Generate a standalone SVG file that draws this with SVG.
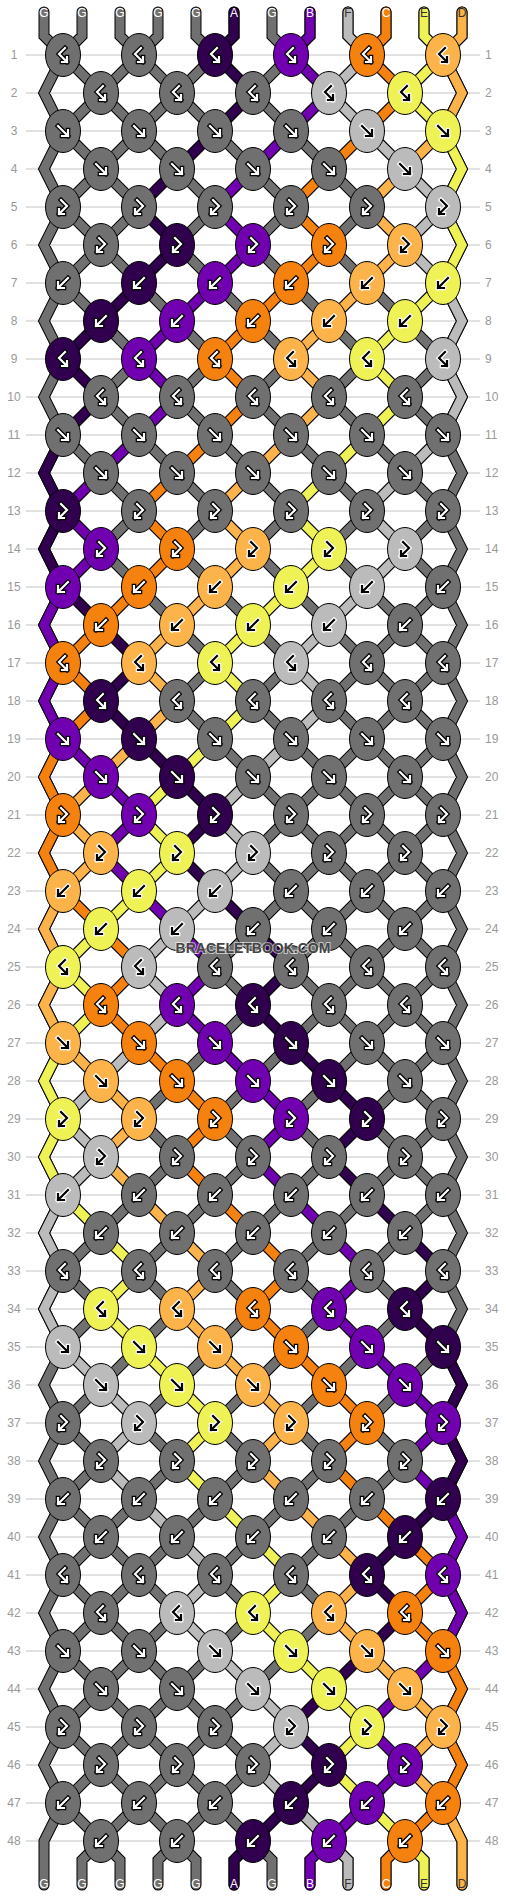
<svg xmlns="http://www.w3.org/2000/svg" xmlns:xlink="http://www.w3.org/1999/xlink" width="506" height="1896" viewBox="0 0 506 1896">
<style>
text{font-family:"Liberation Sans",Arial,sans-serif}
.n{font-size:12px;fill:#999}
.lb{font-size:12px;text-anchor:middle}
.w{fill:#fff}.k{fill:#333}
.rl{fill:none;stroke:#c4c4c4;stroke-width:1}
.o{fill:none;stroke:#000;stroke-width:11;stroke-linecap:round;stroke-linejoin:miter}
.s{fill:none;stroke-width:9;stroke-linecap:round;stroke-linejoin:miter}
.G{fill:#707070}.A{fill:#30004e}.B{fill:#7000b0}.F{fill:#bbbbbb}.C{fill:#f5820f}.E{fill:#eef254}.D{fill:#fcb349}
.ao{fill:none;stroke:#000;stroke-width:4.6;stroke-linecap:square}
.ai{fill:none;stroke:#fff;stroke-width:2.2;stroke-linecap:square}
.bo{fill:none;stroke:#fff;stroke-width:4.6;stroke-linecap:square}
.bi{fill:none;stroke:#000;stroke-width:2.2;stroke-linecap:square}
</style>
<defs>
<path id="gF" d="M-5,-5L5,5M5,-1V5H-1"/>
<path id="gB" d="M5,-5L-5,5M-5,-1V5H1"/>
<path id="gBF" d="M2,-7L-4,-1L4,7M4,2V7H-1"/>
<path id="gFB" d="M-2,-7L4,-1L-4,7M-4,2V7H1"/>
<g id="Fw"><ellipse rx="17.5" ry="21.5" stroke="#000"/><use href="#gF" class="ao"/><use href="#gF" class="ai"/></g>
<g id="Fb"><ellipse rx="17.5" ry="21.5" stroke="#000"/><use href="#gF" class="bo"/><use href="#gF" class="bi"/></g>
<g id="Bw"><ellipse rx="17.5" ry="21.5" stroke="#000"/><use href="#gB" class="ao"/><use href="#gB" class="ai"/></g>
<g id="Bb"><ellipse rx="17.5" ry="21.5" stroke="#000"/><use href="#gB" class="bo"/><use href="#gB" class="bi"/></g>
<g id="BFw"><ellipse rx="17.5" ry="21.5" stroke="#000"/><use href="#gBF" class="ao"/><use href="#gBF" class="ai"/></g>
<g id="BFb"><ellipse rx="17.5" ry="21.5" stroke="#000"/><use href="#gBF" class="bo"/><use href="#gBF" class="bi"/></g>
<g id="FBw"><ellipse rx="17.5" ry="21.5" stroke="#000"/><use href="#gFB" class="ao"/><use href="#gFB" class="ai"/></g>
<g id="FBb"><ellipse rx="17.5" ry="21.5" stroke="#000"/><use href="#gFB" class="bo"/><use href="#gFB" class="bi"/></g>
<path id="lat" d="M367,55l76,76M291,55l152,152M215,55l228,228M139,55l304,304M63,55l380,380M63,131l380,380M63,207l380,380M63,283l380,380M63,359l380,380M63,435l380,380M63,511l380,380M63,587l380,380M63,663l380,380M63,739l380,380M63,815l380,380M63,891l380,380M63,967l380,380M63,1043l380,380M63,1119l380,380M63,1195l380,380M63,1271l380,380M63,1347l380,380M63,1423l380,380M63,1499l342,342M63,1575l266,266M63,1651l190,190M63,1727l114,114M63,1803l38,38
M139,55l-76,76M215,55l-152,152M291,55l-228,228M367,55l-304,304M443,55l-380,380M443,131l-380,380M443,207l-380,380M443,283l-380,380M443,359l-380,380M443,435l-380,380M443,511l-380,380M443,587l-380,380M443,663l-380,380M443,739l-380,380M443,815l-380,380M443,891l-380,380M443,967l-380,380M443,1043l-380,380M443,1119l-380,380M443,1195l-380,380M443,1271l-380,380M443,1347l-380,380M443,1423l-380,380M443,1499l-342,342M443,1575l-266,266M443,1651l-190,190M443,1727l-114,114M443,1803l-38,38
M63,55L44,93 63,131 44,169 63,207 44,245 63,283 44,321 63,359 44,397 63,435 44,473 63,511 44,549 63,587 44,625 63,663 44,701 63,739 44,777 63,815 44,853 63,891 44,929 63,967 44,1005 63,1043 44,1081 63,1119 44,1157 63,1195 44,1233 63,1271 44,1309 63,1347 44,1385 63,1423 44,1461 63,1499 44,1537 63,1575 44,1613 63,1651 44,1689 63,1727 44,1765 63,1803 44,1841 44,1885
M443,55L462,93 443,131 462,169 443,207 462,245 443,283 462,321 443,359 462,397 443,435 462,473 443,511 462,549 443,587 462,625 443,663 462,701 443,739 462,777 443,815 462,853 443,891 462,929 443,967 462,1005 443,1043 462,1081 443,1119 462,1157 443,1195 462,1233 443,1271 462,1309 443,1347 462,1385 443,1423 462,1461 443,1499 462,1537 443,1575 462,1613 443,1651 462,1689 443,1727 462,1765 443,1803 462,1841 462,1885
M44,12V36l19,19M82,12V36l-19,19M120,12V36l19,19M158,12V36l-19,19M196,12V36l19,19M234,12V36l-19,19M272,12V36l19,19M310,12V36l-19,19M348,12V36l19,19M386,12V36l-19,19M424,12V36l19,19M462,12V36l-19,19
M101,1841l-19,19V1885M101,1841l19,19V1885M177,1841l-19,19V1885M177,1841l19,19V1885M253,1841l-19,19V1885M253,1841l19,19V1885M329,1841l-19,19V1885M329,1841l19,19V1885M405,1841l-19,19V1885M405,1841l19,19V1885"/>
<path id="pA" d="M234,12V36L215,55 253,93 215,131 177,169 139,207 177,245 139,283 101,321 63,359 101,397 63,435 44,473 63,511 44,549 63,587 101,625 139,663 101,701 139,739 177,777 215,815 177,853 215,891 253,929 291,967 253,1005 291,1043 329,1081 367,1119 329,1157 367,1195 405,1233 443,1271 405,1309 443,1347 462,1385 443,1423 462,1461 443,1499 405,1537 367,1575 405,1613 367,1651 329,1689 291,1727 329,1765 291,1803 253,1841 234,1860V1885"/>
<path id="pB" d="M310,12V36L291,55 329,93 291,131 253,169 215,207 253,245 215,283 177,321 139,359 177,397 139,435 101,473 63,511 101,549 63,587 44,625 63,663 44,701 63,739 101,777 139,815 101,853 139,891 177,929 215,967 177,1005 215,1043 253,1081 291,1119 253,1157 291,1195 329,1233 367,1271 329,1309 367,1347 405,1385 443,1423 405,1461 443,1499 462,1537 443,1575 462,1613 443,1651 405,1689 367,1727 405,1765 367,1803 329,1841 310,1860V1885"/>
<path id="pF" d="M348,12V36L367,55 329,93 367,131 405,169 443,207 405,245 443,283 462,321 443,359 462,397 443,435 405,473 367,511 405,549 367,587 329,625 291,663 329,701 291,739 253,777 215,815 253,853 215,891 177,929 139,967 177,1005 139,1043 101,1081 63,1119 101,1157 63,1195 44,1233 63,1271 44,1309 63,1347 101,1385 139,1423 101,1461 139,1499 177,1537 215,1575 177,1613 215,1651 253,1689 291,1727 253,1765 291,1803 329,1841 348,1860V1885"/>
<path id="pC" d="M386,12V36L367,55 405,93 367,131 329,169 291,207 329,245 291,283 253,321 215,359 253,397 215,435 177,473 139,511 177,549 139,587 101,625 63,663 101,701 63,739 44,777 63,815 44,853 63,891 101,929 139,967 101,1005 139,1043 177,1081 215,1119 177,1157 215,1195 253,1233 291,1271 253,1309 291,1347 329,1385 367,1423 329,1461 367,1499 405,1537 443,1575 405,1613 443,1651 462,1689 443,1727 462,1765 443,1803 405,1841 386,1860V1885"/>
<path id="pE" d="M424,12V36L443,55 405,93 443,131 462,169 443,207 462,245 443,283 405,321 367,359 405,397 367,435 329,473 291,511 329,549 291,587 253,625 215,663 253,701 215,739 177,777 139,815 177,853 139,891 101,929 63,967 101,1005 63,1043 44,1081 63,1119 44,1157 63,1195 101,1233 139,1271 101,1309 139,1347 177,1385 215,1423 177,1461 215,1499 253,1537 291,1575 253,1613 291,1651 329,1689 367,1727 329,1765 367,1803 405,1841 424,1860V1885"/>
<path id="pD" d="M462,12V36L443,55 462,93 443,131 405,169 367,207 405,245 367,283 329,321 291,359 329,397 291,435 253,473 215,511 253,549 215,587 177,625 139,663 177,701 139,739 101,777 63,815 101,853 63,891 44,929 63,967 44,1005 63,1043 101,1081 139,1119 101,1157 139,1195 177,1233 215,1271 177,1309 215,1347 253,1385 291,1423 253,1461 291,1499 329,1537 367,1575 329,1613 367,1651 405,1689 443,1727 405,1765 443,1803 462,1841V1885"/>
</defs>
<rect width="506" height="1896" fill="#fff"/>
<g id="grid">
<path class="rl" d="M26,55H480M26,93H480M26,131H480M26,169H480M26,207H480M26,245H480M26,283H480M26,321H480M26,359H480M26,397H480M26,435H480M26,473H480M26,511H480M26,549H480M26,587H480M26,625H480M26,663H480M26,701H480M26,739H480M26,777H480M26,815H480M26,853H480M26,891H480M26,929H480M26,967H480M26,1005H480M26,1043H480M26,1081H480M26,1119H480M26,1157H480M26,1195H480M26,1233H480M26,1271H480M26,1309H480M26,1347H480M26,1385H480M26,1423H480M26,1461H480M26,1499H480M26,1537H480M26,1575H480M26,1613H480M26,1651H480M26,1689H480M26,1727H480M26,1765H480M26,1803H480M26,1841H480"/>
<g class="n" text-anchor="middle">
<text x="14" y="59">1</text><text x="14" y="97">2</text><text x="14" y="135">3</text><text x="14" y="173">4</text><text x="14" y="211">5</text><text x="14" y="249">6</text><text x="14" y="287">7</text><text x="14" y="325">8</text><text x="14" y="363">9</text><text x="14" y="401">10</text><text x="14" y="439">11</text><text x="14" y="477">12</text><text x="14" y="515">13</text><text x="14" y="553">14</text><text x="14" y="591">15</text><text x="14" y="629">16</text><text x="14" y="667">17</text><text x="14" y="705">18</text><text x="14" y="743">19</text><text x="14" y="781">20</text><text x="14" y="819">21</text><text x="14" y="857">22</text><text x="14" y="895">23</text><text x="14" y="933">24</text><text x="14" y="971">25</text><text x="14" y="1009">26</text><text x="14" y="1047">27</text><text x="14" y="1085">28</text><text x="14" y="1123">29</text><text x="14" y="1161">30</text><text x="14" y="1199">31</text><text x="14" y="1237">32</text><text x="14" y="1275">33</text><text x="14" y="1313">34</text><text x="14" y="1351">35</text><text x="14" y="1389">36</text><text x="14" y="1427">37</text><text x="14" y="1465">38</text><text x="14" y="1503">39</text><text x="14" y="1541">40</text><text x="14" y="1579">41</text><text x="14" y="1617">42</text><text x="14" y="1655">43</text><text x="14" y="1693">44</text><text x="14" y="1731">45</text><text x="14" y="1769">46</text><text x="14" y="1807">47</text><text x="14" y="1845">48</text>
</g>
<g class="n">
<text x="485" y="59">1</text><text x="485" y="97">2</text><text x="485" y="135">3</text><text x="485" y="173">4</text><text x="485" y="211">5</text><text x="485" y="249">6</text><text x="485" y="287">7</text><text x="485" y="325">8</text><text x="485" y="363">9</text><text x="485" y="401">10</text><text x="485" y="439">11</text><text x="485" y="477">12</text><text x="485" y="515">13</text><text x="485" y="553">14</text><text x="485" y="591">15</text><text x="485" y="629">16</text><text x="485" y="667">17</text><text x="485" y="705">18</text><text x="485" y="743">19</text><text x="485" y="781">20</text><text x="485" y="819">21</text><text x="485" y="857">22</text><text x="485" y="895">23</text><text x="485" y="933">24</text><text x="485" y="971">25</text><text x="485" y="1009">26</text><text x="485" y="1047">27</text><text x="485" y="1085">28</text><text x="485" y="1123">29</text><text x="485" y="1161">30</text><text x="485" y="1199">31</text><text x="485" y="1237">32</text><text x="485" y="1275">33</text><text x="485" y="1313">34</text><text x="485" y="1351">35</text><text x="485" y="1389">36</text><text x="485" y="1427">37</text><text x="485" y="1465">38</text><text x="485" y="1503">39</text><text x="485" y="1541">40</text><text x="485" y="1579">41</text><text x="485" y="1617">42</text><text x="485" y="1655">43</text><text x="485" y="1693">44</text><text x="485" y="1731">45</text><text x="485" y="1769">46</text><text x="485" y="1807">47</text><text x="485" y="1845">48</text>
</g>
</g>
<g id="connectors">
<use href="#lat" class="o"/><use href="#lat" class="s" stroke="#707070"/>
<use href="#pA" class="o"/><use href="#pA" class="s" stroke="#30004e"/>
<use href="#pB" class="o"/><use href="#pB" class="s" stroke="#7000b0"/>
<use href="#pF" class="o"/><use href="#pF" class="s" stroke="#bbbbbb"/>
<use href="#pC" class="o"/><use href="#pC" class="s" stroke="#f5820f"/>
<use href="#pE" class="o"/><use href="#pE" class="s" stroke="#eef254"/>
<use href="#pD" class="o"/><use href="#pD" class="s" stroke="#fcb349"/>
</g>
<g id="knots">
<g id="k1-1" class="G"><use href="#BFw" x="63" y="55"/></g>
<g id="k1-2" class="G"><use href="#BFw" x="139" y="55"/></g>
<g id="k1-3" class="A"><use href="#BFw" x="215" y="55"/></g>
<g id="k1-4" class="B"><use href="#BFw" x="291" y="55"/></g>
<g id="k1-5" class="C"><use href="#BFw" x="367" y="55"/></g>
<g id="k1-6" class="D"><use href="#BFb" x="443" y="55"/></g>
<g id="k2-1" class="G"><use href="#BFw" x="101" y="93"/></g>
<g id="k2-2" class="G"><use href="#BFw" x="177" y="93"/></g>
<g id="k2-3" class="G"><use href="#BFw" x="253" y="93"/></g>
<g id="k2-4" class="F"><use href="#BFb" x="329" y="93"/></g>
<g id="k2-5" class="E"><use href="#BFb" x="405" y="93"/></g>
<g id="k3-1" class="G"><use href="#Fw" x="63" y="131"/></g>
<g id="k3-2" class="G"><use href="#Fw" x="139" y="131"/></g>
<g id="k3-3" class="G"><use href="#Fw" x="215" y="131"/></g>
<g id="k3-4" class="G"><use href="#Fw" x="291" y="131"/></g>
<g id="k3-5" class="F"><use href="#Fb" x="367" y="131"/></g>
<g id="k3-6" class="E"><use href="#Fb" x="443" y="131"/></g>
<g id="k4-1" class="G"><use href="#Fw" x="101" y="169"/></g>
<g id="k4-2" class="G"><use href="#Fw" x="177" y="169"/></g>
<g id="k4-3" class="G"><use href="#Fw" x="253" y="169"/></g>
<g id="k4-4" class="G"><use href="#Fw" x="329" y="169"/></g>
<g id="k4-5" class="F"><use href="#Fb" x="405" y="169"/></g>
<g id="k5-1" class="G"><use href="#FBw" x="63" y="207"/></g>
<g id="k5-2" class="G"><use href="#FBw" x="139" y="207"/></g>
<g id="k5-3" class="G"><use href="#FBw" x="215" y="207"/></g>
<g id="k5-4" class="G"><use href="#FBw" x="291" y="207"/></g>
<g id="k5-5" class="G"><use href="#FBw" x="367" y="207"/></g>
<g id="k5-6" class="F"><use href="#FBb" x="443" y="207"/></g>
<g id="k6-1" class="G"><use href="#FBw" x="101" y="245"/></g>
<g id="k6-2" class="A"><use href="#FBw" x="177" y="245"/></g>
<g id="k6-3" class="B"><use href="#FBw" x="253" y="245"/></g>
<g id="k6-4" class="C"><use href="#FBw" x="329" y="245"/></g>
<g id="k6-5" class="D"><use href="#FBb" x="405" y="245"/></g>
<g id="k7-1" class="G"><use href="#Bw" x="63" y="283"/></g>
<g id="k7-2" class="A"><use href="#Bw" x="139" y="283"/></g>
<g id="k7-3" class="B"><use href="#Bw" x="215" y="283"/></g>
<g id="k7-4" class="C"><use href="#Bw" x="291" y="283"/></g>
<g id="k7-5" class="D"><use href="#Bb" x="367" y="283"/></g>
<g id="k7-6" class="E"><use href="#Bb" x="443" y="283"/></g>
<g id="k8-1" class="A"><use href="#Bw" x="101" y="321"/></g>
<g id="k8-2" class="B"><use href="#Bw" x="177" y="321"/></g>
<g id="k8-3" class="C"><use href="#Bw" x="253" y="321"/></g>
<g id="k8-4" class="D"><use href="#Bb" x="329" y="321"/></g>
<g id="k8-5" class="E"><use href="#Bb" x="405" y="321"/></g>
<g id="k9-1" class="A"><use href="#BFw" x="63" y="359"/></g>
<g id="k9-2" class="B"><use href="#BFw" x="139" y="359"/></g>
<g id="k9-3" class="C"><use href="#BFw" x="215" y="359"/></g>
<g id="k9-4" class="D"><use href="#BFb" x="291" y="359"/></g>
<g id="k9-5" class="E"><use href="#BFb" x="367" y="359"/></g>
<g id="k9-6" class="F"><use href="#BFb" x="443" y="359"/></g>
<g id="k10-1" class="G"><use href="#BFw" x="101" y="397"/></g>
<g id="k10-2" class="G"><use href="#BFw" x="177" y="397"/></g>
<g id="k10-3" class="G"><use href="#BFw" x="253" y="397"/></g>
<g id="k10-4" class="G"><use href="#BFw" x="329" y="397"/></g>
<g id="k10-5" class="G"><use href="#BFw" x="405" y="397"/></g>
<g id="k11-1" class="G"><use href="#Fw" x="63" y="435"/></g>
<g id="k11-2" class="G"><use href="#Fw" x="139" y="435"/></g>
<g id="k11-3" class="G"><use href="#Fw" x="215" y="435"/></g>
<g id="k11-4" class="G"><use href="#Fw" x="291" y="435"/></g>
<g id="k11-5" class="G"><use href="#Fw" x="367" y="435"/></g>
<g id="k11-6" class="G"><use href="#Fw" x="443" y="435"/></g>
<g id="k12-1" class="G"><use href="#Fw" x="101" y="473"/></g>
<g id="k12-2" class="G"><use href="#Fw" x="177" y="473"/></g>
<g id="k12-3" class="G"><use href="#Fw" x="253" y="473"/></g>
<g id="k12-4" class="G"><use href="#Fw" x="329" y="473"/></g>
<g id="k12-5" class="G"><use href="#Fw" x="405" y="473"/></g>
<g id="k13-1" class="A"><use href="#FBw" x="63" y="511"/></g>
<g id="k13-2" class="G"><use href="#FBw" x="139" y="511"/></g>
<g id="k13-3" class="G"><use href="#FBw" x="215" y="511"/></g>
<g id="k13-4" class="G"><use href="#FBw" x="291" y="511"/></g>
<g id="k13-5" class="G"><use href="#FBw" x="367" y="511"/></g>
<g id="k13-6" class="G"><use href="#FBw" x="443" y="511"/></g>
<g id="k14-1" class="B"><use href="#FBw" x="101" y="549"/></g>
<g id="k14-2" class="C"><use href="#FBw" x="177" y="549"/></g>
<g id="k14-3" class="D"><use href="#FBb" x="253" y="549"/></g>
<g id="k14-4" class="E"><use href="#FBb" x="329" y="549"/></g>
<g id="k14-5" class="F"><use href="#FBb" x="405" y="549"/></g>
<g id="k15-1" class="B"><use href="#Bw" x="63" y="587"/></g>
<g id="k15-2" class="C"><use href="#Bw" x="139" y="587"/></g>
<g id="k15-3" class="D"><use href="#Bb" x="215" y="587"/></g>
<g id="k15-4" class="E"><use href="#Bb" x="291" y="587"/></g>
<g id="k15-5" class="F"><use href="#Bb" x="367" y="587"/></g>
<g id="k15-6" class="G"><use href="#Bw" x="443" y="587"/></g>
<g id="k16-1" class="C"><use href="#Bw" x="101" y="625"/></g>
<g id="k16-2" class="D"><use href="#Bb" x="177" y="625"/></g>
<g id="k16-3" class="E"><use href="#Bb" x="253" y="625"/></g>
<g id="k16-4" class="F"><use href="#Bb" x="329" y="625"/></g>
<g id="k16-5" class="G"><use href="#Bw" x="405" y="625"/></g>
<g id="k17-1" class="C"><use href="#BFw" x="63" y="663"/></g>
<g id="k17-2" class="D"><use href="#BFb" x="139" y="663"/></g>
<g id="k17-3" class="E"><use href="#BFb" x="215" y="663"/></g>
<g id="k17-4" class="F"><use href="#BFb" x="291" y="663"/></g>
<g id="k17-5" class="G"><use href="#BFw" x="367" y="663"/></g>
<g id="k17-6" class="G"><use href="#BFw" x="443" y="663"/></g>
<g id="k18-1" class="A"><use href="#BFw" x="101" y="701"/></g>
<g id="k18-2" class="G"><use href="#BFw" x="177" y="701"/></g>
<g id="k18-3" class="G"><use href="#BFw" x="253" y="701"/></g>
<g id="k18-4" class="G"><use href="#BFw" x="329" y="701"/></g>
<g id="k18-5" class="G"><use href="#BFw" x="405" y="701"/></g>
<g id="k19-1" class="B"><use href="#Fw" x="63" y="739"/></g>
<g id="k19-2" class="A"><use href="#Fw" x="139" y="739"/></g>
<g id="k19-3" class="G"><use href="#Fw" x="215" y="739"/></g>
<g id="k19-4" class="G"><use href="#Fw" x="291" y="739"/></g>
<g id="k19-5" class="G"><use href="#Fw" x="367" y="739"/></g>
<g id="k19-6" class="G"><use href="#Fw" x="443" y="739"/></g>
<g id="k20-1" class="B"><use href="#Fw" x="101" y="777"/></g>
<g id="k20-2" class="A"><use href="#Fw" x="177" y="777"/></g>
<g id="k20-3" class="G"><use href="#Fw" x="253" y="777"/></g>
<g id="k20-4" class="G"><use href="#Fw" x="329" y="777"/></g>
<g id="k20-5" class="G"><use href="#Fw" x="405" y="777"/></g>
<g id="k21-1" class="C"><use href="#FBw" x="63" y="815"/></g>
<g id="k21-2" class="B"><use href="#FBw" x="139" y="815"/></g>
<g id="k21-3" class="A"><use href="#FBw" x="215" y="815"/></g>
<g id="k21-4" class="G"><use href="#FBw" x="291" y="815"/></g>
<g id="k21-5" class="G"><use href="#FBw" x="367" y="815"/></g>
<g id="k21-6" class="G"><use href="#FBw" x="443" y="815"/></g>
<g id="k22-1" class="D"><use href="#FBb" x="101" y="853"/></g>
<g id="k22-2" class="E"><use href="#FBb" x="177" y="853"/></g>
<g id="k22-3" class="F"><use href="#FBb" x="253" y="853"/></g>
<g id="k22-4" class="G"><use href="#FBw" x="329" y="853"/></g>
<g id="k22-5" class="G"><use href="#FBw" x="405" y="853"/></g>
<g id="k23-1" class="D"><use href="#Bb" x="63" y="891"/></g>
<g id="k23-2" class="E"><use href="#Bb" x="139" y="891"/></g>
<g id="k23-3" class="F"><use href="#Bb" x="215" y="891"/></g>
<g id="k23-4" class="G"><use href="#Bw" x="291" y="891"/></g>
<g id="k23-5" class="G"><use href="#Bw" x="367" y="891"/></g>
<g id="k23-6" class="G"><use href="#Bw" x="443" y="891"/></g>
<g id="k24-1" class="E"><use href="#Bb" x="101" y="929"/></g>
<g id="k24-2" class="F"><use href="#Bb" x="177" y="929"/></g>
<g id="k24-3" class="G"><use href="#Bw" x="253" y="929"/></g>
<g id="k24-4" class="G"><use href="#Bw" x="329" y="929"/></g>
<g id="k24-5" class="G"><use href="#Bw" x="405" y="929"/></g>
<g id="k25-1" class="E"><use href="#BFb" x="63" y="967"/></g>
<g id="k25-2" class="F"><use href="#BFb" x="139" y="967"/></g>
<g id="k25-3" class="G"><use href="#BFw" x="215" y="967"/></g>
<g id="k25-4" class="G"><use href="#BFw" x="291" y="967"/></g>
<g id="k25-5" class="G"><use href="#BFw" x="367" y="967"/></g>
<g id="k25-6" class="G"><use href="#BFw" x="443" y="967"/></g>
<g id="k26-1" class="C"><use href="#BFw" x="101" y="1005"/></g>
<g id="k26-2" class="B"><use href="#BFw" x="177" y="1005"/></g>
<g id="k26-3" class="A"><use href="#BFw" x="253" y="1005"/></g>
<g id="k26-4" class="G"><use href="#BFw" x="329" y="1005"/></g>
<g id="k26-5" class="G"><use href="#BFw" x="405" y="1005"/></g>
<g id="k27-1" class="D"><use href="#Fb" x="63" y="1043"/></g>
<g id="k27-2" class="C"><use href="#Fw" x="139" y="1043"/></g>
<g id="k27-3" class="B"><use href="#Fw" x="215" y="1043"/></g>
<g id="k27-4" class="A"><use href="#Fw" x="291" y="1043"/></g>
<g id="k27-5" class="G"><use href="#Fw" x="367" y="1043"/></g>
<g id="k27-6" class="G"><use href="#Fw" x="443" y="1043"/></g>
<g id="k28-1" class="D"><use href="#Fb" x="101" y="1081"/></g>
<g id="k28-2" class="C"><use href="#Fw" x="177" y="1081"/></g>
<g id="k28-3" class="B"><use href="#Fw" x="253" y="1081"/></g>
<g id="k28-4" class="A"><use href="#Fw" x="329" y="1081"/></g>
<g id="k28-5" class="G"><use href="#Fw" x="405" y="1081"/></g>
<g id="k29-1" class="E"><use href="#FBb" x="63" y="1119"/></g>
<g id="k29-2" class="D"><use href="#FBb" x="139" y="1119"/></g>
<g id="k29-3" class="C"><use href="#FBw" x="215" y="1119"/></g>
<g id="k29-4" class="B"><use href="#FBw" x="291" y="1119"/></g>
<g id="k29-5" class="A"><use href="#FBw" x="367" y="1119"/></g>
<g id="k29-6" class="G"><use href="#FBw" x="443" y="1119"/></g>
<g id="k30-1" class="F"><use href="#FBb" x="101" y="1157"/></g>
<g id="k30-2" class="G"><use href="#FBw" x="177" y="1157"/></g>
<g id="k30-3" class="G"><use href="#FBw" x="253" y="1157"/></g>
<g id="k30-4" class="G"><use href="#FBw" x="329" y="1157"/></g>
<g id="k30-5" class="G"><use href="#FBw" x="405" y="1157"/></g>
<g id="k31-1" class="F"><use href="#Bb" x="63" y="1195"/></g>
<g id="k31-2" class="G"><use href="#Bw" x="139" y="1195"/></g>
<g id="k31-3" class="G"><use href="#Bw" x="215" y="1195"/></g>
<g id="k31-4" class="G"><use href="#Bw" x="291" y="1195"/></g>
<g id="k31-5" class="G"><use href="#Bw" x="367" y="1195"/></g>
<g id="k31-6" class="G"><use href="#Bw" x="443" y="1195"/></g>
<g id="k32-1" class="G"><use href="#Bw" x="101" y="1233"/></g>
<g id="k32-2" class="G"><use href="#Bw" x="177" y="1233"/></g>
<g id="k32-3" class="G"><use href="#Bw" x="253" y="1233"/></g>
<g id="k32-4" class="G"><use href="#Bw" x="329" y="1233"/></g>
<g id="k32-5" class="G"><use href="#Bw" x="405" y="1233"/></g>
<g id="k33-1" class="G"><use href="#BFw" x="63" y="1271"/></g>
<g id="k33-2" class="G"><use href="#BFw" x="139" y="1271"/></g>
<g id="k33-3" class="G"><use href="#BFw" x="215" y="1271"/></g>
<g id="k33-4" class="G"><use href="#BFw" x="291" y="1271"/></g>
<g id="k33-5" class="G"><use href="#BFw" x="367" y="1271"/></g>
<g id="k33-6" class="G"><use href="#BFw" x="443" y="1271"/></g>
<g id="k34-1" class="E"><use href="#BFb" x="101" y="1309"/></g>
<g id="k34-2" class="D"><use href="#BFb" x="177" y="1309"/></g>
<g id="k34-3" class="C"><use href="#BFw" x="253" y="1309"/></g>
<g id="k34-4" class="B"><use href="#BFw" x="329" y="1309"/></g>
<g id="k34-5" class="A"><use href="#BFw" x="405" y="1309"/></g>
<g id="k35-1" class="F"><use href="#Fb" x="63" y="1347"/></g>
<g id="k35-2" class="E"><use href="#Fb" x="139" y="1347"/></g>
<g id="k35-3" class="D"><use href="#Fb" x="215" y="1347"/></g>
<g id="k35-4" class="C"><use href="#Fw" x="291" y="1347"/></g>
<g id="k35-5" class="B"><use href="#Fw" x="367" y="1347"/></g>
<g id="k35-6" class="A"><use href="#Fw" x="443" y="1347"/></g>
<g id="k36-1" class="F"><use href="#Fb" x="101" y="1385"/></g>
<g id="k36-2" class="E"><use href="#Fb" x="177" y="1385"/></g>
<g id="k36-3" class="D"><use href="#Fb" x="253" y="1385"/></g>
<g id="k36-4" class="C"><use href="#Fw" x="329" y="1385"/></g>
<g id="k36-5" class="B"><use href="#Fw" x="405" y="1385"/></g>
<g id="k37-1" class="G"><use href="#FBw" x="63" y="1423"/></g>
<g id="k37-2" class="F"><use href="#FBb" x="139" y="1423"/></g>
<g id="k37-3" class="E"><use href="#FBb" x="215" y="1423"/></g>
<g id="k37-4" class="D"><use href="#FBb" x="291" y="1423"/></g>
<g id="k37-5" class="C"><use href="#FBw" x="367" y="1423"/></g>
<g id="k37-6" class="B"><use href="#FBw" x="443" y="1423"/></g>
<g id="k38-1" class="G"><use href="#FBw" x="101" y="1461"/></g>
<g id="k38-2" class="G"><use href="#FBw" x="177" y="1461"/></g>
<g id="k38-3" class="G"><use href="#FBw" x="253" y="1461"/></g>
<g id="k38-4" class="G"><use href="#FBw" x="329" y="1461"/></g>
<g id="k38-5" class="G"><use href="#FBw" x="405" y="1461"/></g>
<g id="k39-1" class="G"><use href="#Bw" x="63" y="1499"/></g>
<g id="k39-2" class="G"><use href="#Bw" x="139" y="1499"/></g>
<g id="k39-3" class="G"><use href="#Bw" x="215" y="1499"/></g>
<g id="k39-4" class="G"><use href="#Bw" x="291" y="1499"/></g>
<g id="k39-5" class="G"><use href="#Bw" x="367" y="1499"/></g>
<g id="k39-6" class="A"><use href="#Bw" x="443" y="1499"/></g>
<g id="k40-1" class="G"><use href="#Bw" x="101" y="1537"/></g>
<g id="k40-2" class="G"><use href="#Bw" x="177" y="1537"/></g>
<g id="k40-3" class="G"><use href="#Bw" x="253" y="1537"/></g>
<g id="k40-4" class="G"><use href="#Bw" x="329" y="1537"/></g>
<g id="k40-5" class="A"><use href="#Bw" x="405" y="1537"/></g>
<g id="k41-1" class="G"><use href="#BFw" x="63" y="1575"/></g>
<g id="k41-2" class="G"><use href="#BFw" x="139" y="1575"/></g>
<g id="k41-3" class="G"><use href="#BFw" x="215" y="1575"/></g>
<g id="k41-4" class="G"><use href="#BFw" x="291" y="1575"/></g>
<g id="k41-5" class="A"><use href="#BFw" x="367" y="1575"/></g>
<g id="k41-6" class="B"><use href="#BFw" x="443" y="1575"/></g>
<g id="k42-1" class="G"><use href="#BFw" x="101" y="1613"/></g>
<g id="k42-2" class="F"><use href="#BFb" x="177" y="1613"/></g>
<g id="k42-3" class="E"><use href="#BFb" x="253" y="1613"/></g>
<g id="k42-4" class="D"><use href="#BFb" x="329" y="1613"/></g>
<g id="k42-5" class="C"><use href="#BFw" x="405" y="1613"/></g>
<g id="k43-1" class="G"><use href="#Fw" x="63" y="1651"/></g>
<g id="k43-2" class="G"><use href="#Fw" x="139" y="1651"/></g>
<g id="k43-3" class="F"><use href="#Fb" x="215" y="1651"/></g>
<g id="k43-4" class="E"><use href="#Fb" x="291" y="1651"/></g>
<g id="k43-5" class="D"><use href="#Fb" x="367" y="1651"/></g>
<g id="k43-6" class="C"><use href="#Fw" x="443" y="1651"/></g>
<g id="k44-1" class="G"><use href="#Fw" x="101" y="1689"/></g>
<g id="k44-2" class="G"><use href="#Fw" x="177" y="1689"/></g>
<g id="k44-3" class="F"><use href="#Fb" x="253" y="1689"/></g>
<g id="k44-4" class="E"><use href="#Fb" x="329" y="1689"/></g>
<g id="k44-5" class="D"><use href="#Fb" x="405" y="1689"/></g>
<g id="k45-1" class="G"><use href="#FBw" x="63" y="1727"/></g>
<g id="k45-2" class="G"><use href="#FBw" x="139" y="1727"/></g>
<g id="k45-3" class="G"><use href="#FBw" x="215" y="1727"/></g>
<g id="k45-4" class="F"><use href="#FBb" x="291" y="1727"/></g>
<g id="k45-5" class="E"><use href="#FBb" x="367" y="1727"/></g>
<g id="k45-6" class="D"><use href="#FBb" x="443" y="1727"/></g>
<g id="k46-1" class="G"><use href="#FBw" x="101" y="1765"/></g>
<g id="k46-2" class="G"><use href="#FBw" x="177" y="1765"/></g>
<g id="k46-3" class="G"><use href="#FBw" x="253" y="1765"/></g>
<g id="k46-4" class="A"><use href="#FBw" x="329" y="1765"/></g>
<g id="k46-5" class="B"><use href="#FBw" x="405" y="1765"/></g>
<g id="k47-1" class="G"><use href="#Bw" x="63" y="1803"/></g>
<g id="k47-2" class="G"><use href="#Bw" x="139" y="1803"/></g>
<g id="k47-3" class="G"><use href="#Bw" x="215" y="1803"/></g>
<g id="k47-4" class="A"><use href="#Bw" x="291" y="1803"/></g>
<g id="k47-5" class="B"><use href="#Bw" x="367" y="1803"/></g>
<g id="k47-6" class="C"><use href="#Bw" x="443" y="1803"/></g>
<g id="k48-1" class="G"><use href="#Bw" x="101" y="1841"/></g>
<g id="k48-2" class="G"><use href="#Bw" x="177" y="1841"/></g>
<g id="k48-3" class="A"><use href="#Bw" x="253" y="1841"/></g>
<g id="k48-4" class="B"><use href="#Bw" x="329" y="1841"/></g>
<g id="k48-5" class="C"><use href="#Bw" x="405" y="1841"/></g>
</g>
<g id="labels" class="lb">
<text x="44" y="17" class="w">G</text><text x="82" y="17" class="w">G</text><text x="120" y="17" class="w">G</text><text x="158" y="17" class="w">G</text><text x="196" y="17" class="w">G</text><text x="234" y="17" class="w">A</text><text x="272" y="17" class="w">G</text><text x="310" y="17" class="w">B</text><text x="348" y="17" class="k">F</text><text x="386" y="17" class="w">C</text><text x="424" y="17" class="k">E</text><text x="462" y="17" class="k">D</text>
<text x="44" y="1888" class="w">G</text><text x="82" y="1888" class="w">G</text><text x="120" y="1888" class="w">G</text><text x="158" y="1888" class="w">G</text><text x="196" y="1888" class="w">G</text><text x="234" y="1888" class="w">A</text><text x="272" y="1888" class="w">G</text><text x="310" y="1888" class="w">B</text><text x="348" y="1888" class="k">F</text><text x="386" y="1888" class="w">C</text><text x="424" y="1888" class="k">E</text><text x="462" y="1888" class="k">D</text>
</g>
<text id="watermark" x="253" y="953" text-anchor="middle" font-size="14" font-weight="bold" fill="#444" stroke="#fff" stroke-opacity="0.6" stroke-width="2" paint-order="stroke">BRACELETBOOK.COM</text>
</svg>
